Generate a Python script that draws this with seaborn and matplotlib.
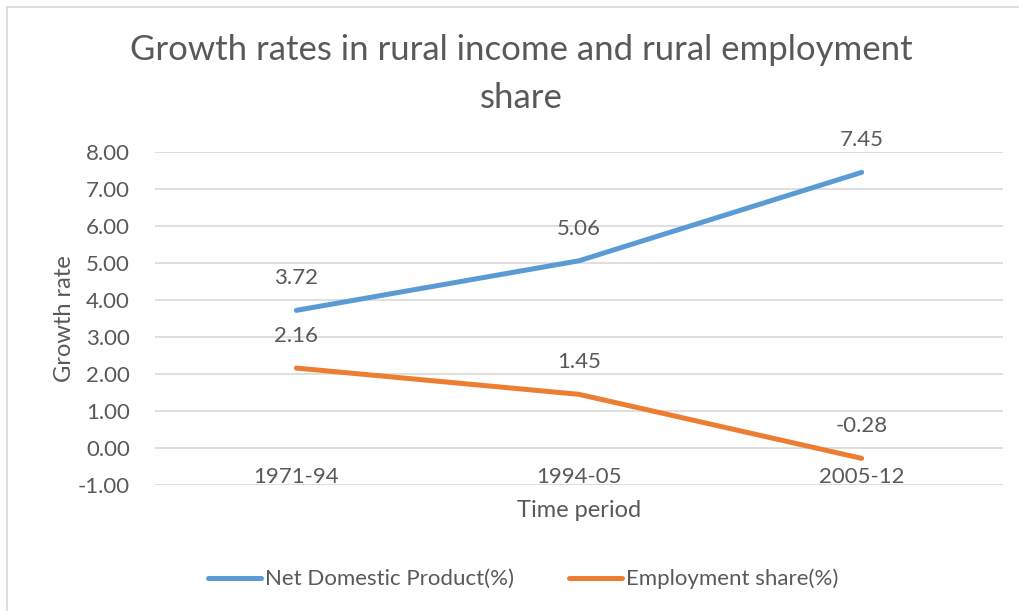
import matplotlib
matplotlib.use("Agg")
import matplotlib.pyplot as plt
import seaborn as sns
import pandas as pd
from matplotlib.lines import Line2D

periods = ["1971-94", "1994-05", "2005-12"]
ndp = [3.72, 5.06, 7.45]
emp = [2.16, 1.45, -0.28]
series_names = ["Net Domestic Product(%)", "Employment share(%)"]
yticks = [-1, 0, 1, 2, 3, 4, 5, 6, 7, 8]

df = pd.DataFrame({
    "Time period": periods * 2,
    "Growth rate": ndp + emp,
    "Series": [series_names[0]] * 3 + [series_names[1]] * 3,
})

sns.set_theme(style="white")
plt.rcParams["font.family"] = ["Lato", "DejaVu Sans"]
TXT = "#595959"
palette = {series_names[0]: "#5B9BD5", series_names[1]: "#ED7D31"}

fig = plt.figure(figsize=(10.19, 6.11), dpi=100)
ax = fig.add_axes([155/1019, 1-485/611, (1003-155)/1019, (485-152)/611])

sns.lineplot(data=df, x="Time period", y="Growth rate", hue="Series",
             palette=palette, linewidth=3.6, ax=ax, legend=False, sort=False)

ax.set_xlim(-0.5, 2.5)
ax.set_ylim(-1, 8)
ax.set_yticks(yticks)
ax.set_yticklabels([f"{v:.2f}" for v in yticks], color=TXT, fontsize=16)
ax.yaxis.grid(True, color="#D9D9D9", linewidth=1.2)
ax.set_axisbelow(True)
for s in ["top", "right", "left"]:
    ax.spines[s].set_visible(False)
ax.spines["bottom"].set_position(("data", 0))
ax.spines["bottom"].set_visible(False)
ax.tick_params(axis="x", length=0, pad=14, labelsize=16, labelcolor=TXT)
ax.tick_params(axis="y", length=0, pad=18)

ax.set_xlabel("Time period", fontsize=17, color=TXT)
ax.xaxis.set_label_coords(0.5, -0.045)
ax.set_ylabel("Growth rate", fontsize=17, color=TXT)
ax.yaxis.set_label_coords(-0.094, 0.5)

for vals in (ndp, emp):
    for i, v in enumerate(vals):
        ax.annotate(f"{v:.2f}", (i, v), xytext=(0, 23), textcoords="offset points",
                    ha="center", va="center", fontsize=16, color=TXT)

fig.text(521/1019, 1-50/611, "Growth rates in rural income and rural employment",
         ha="center", va="center", fontsize=25, color=TXT)
fig.text(521/1019, 1-98/611, "share", ha="center", va="center", fontsize=25, color=TXT)

handles = [Line2D([], [], color=palette[n], linewidth=3.6, solid_capstyle="round") for n in series_names]
fig.legend(handles, series_names, loc="center", bbox_to_anchor=(523/1019, 1-579/611),
           ncol=2, frameon=False, fontsize=16, labelcolor=TXT, handlelength=2.4,
           handletextpad=0.15, columnspacing=2.5)

# chart frame
fig.add_artist(Line2D([7/1019, 7/1019], [0, 1-7/611], color="#D9D9D9", linewidth=1.2))
fig.add_artist(Line2D([7/1019, 1], [1-7/611, 1-7/611], color="#D9D9D9", linewidth=1.2))

fig.savefig("out.png", dpi=100)
